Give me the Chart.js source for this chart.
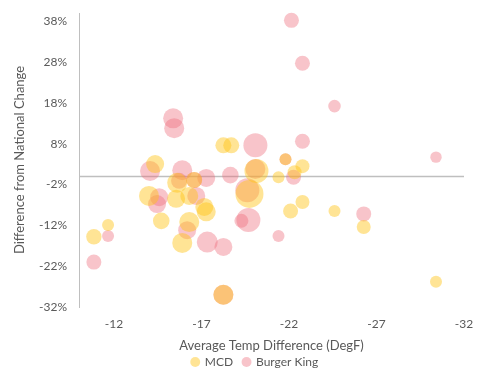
<!DOCTYPE html>
<html>
<head>
<meta charset="utf-8">
<script src="https://cdn.jsdelivr.net/npm/chart.js@4"></script>
<style>
  html, body { margin: 0; padding: 0; background: #fff; }
  #wrap { width: 485px; height: 375px; position: relative; }
</style>
</head>
<body>
<div id="wrap"><canvas id="c"></canvas></div>
<script>
// series values: temp diff (degF), diff from national change (%), bubble radius (px)
const mcdX = [-10.85, -11.66, -14.35, -14.0, -14.7, -15.55, -16.3, -15.9, -16.3, -17.27, -17.16, -18.25, -18.7, -20.14, -19.74, -18.25, -21.4, -21.8, -22.32, -22.77, -22.77, -22.09, -24.6, -26.27, -30.4, -16.58, -15.61];
const mcdY = [-14.8, -11.9, 3.0, -4.8, -10.9, -5.5, -4.8, -16.3, -11.2, -8.7, -7.5, 7.6, 7.6, 1.3, -4.3, -29.0, -0.2, 4.2, 1.0, 2.5, -6.3, -8.5, -8.5, -12.4, -25.8, -0.9, -1.6];
const mcdR = [7.7, 6, 9, 10, 8.3, 9, 9, 10, 10, 9.5, 9, 8, 8, 12, 14, 10, 6, 6, 7, 7, 7, 7.5, 6, 7, 6, 8, 10];

const bkX = [-22.14, -22.77, -24.6, -22.77, -30.4, -22.26, -15.38, -15.44, -20.08, -11.66, -10.85, -17.33, -18.25, -19.68, -19.28, -21.4, -26.27, -18.65, -14.06, -15.9, -17.27, -20.08, -19.62, -18.25, -21.8, -16.7, -16.18, -14.46, -14.58, -15.72, -16.58];
const bkY = [38.2, 27.7, 17.2, 8.6, 4.7, -0.2, 14.2, 11.8, 7.6, -14.6, -21.0, -16.1, -17.3, -10.7, -10.9, -14.6, -9.2, 0.3, 1.3, 1.5, -0.4, 1.8, -3.4, -29.0, 4.2, -4.8, -13.2, -6.8, -5.1, -1.1, -0.9];
const bkR = [7.5, 7.5, 6.3, 7.5, 5.7, 7.5, 10, 10, 12, 6, 7.5, 10.5, 9, 12, 7, 6, 7.5, 8.3, 10, 10, 9, 10, 12, 10, 6, 9, 9, 9, 9, 8, 8];

const xTicks = [-32, -27, -22, -17, -12];
const yTicks = [-32, -22, -12, -2, 8, 18, 28, 38];

const toPoints = (xs, ys, rs) => xs.map((x, i) => ({ x: x, y: ys[i], r: rs[i] }));

const gray = '#595959';
const axisGray = '#BFBFBF';
const font = 'Lato, "Open Sans", sans-serif';

// horizontal axis crosses at 0
const zeroLine = {
  id: 'zeroLine',
  beforeDatasetsDraw(chart) {
    const { ctx, chartArea, scales } = chart;
    const y = Math.round(scales.y.getPixelForValue(0)) + 0.5;
    ctx.save();
    ctx.strokeStyle = axisGray;
    ctx.lineWidth = 1.5;
    ctx.beginPath();
    ctx.moveTo(chartArea.left, y);
    ctx.lineTo(chartArea.right, y);
    ctx.stroke();
    ctx.restore();
  }
};

// nudge the legend under the plot area like excel does
const legendNudge = {
  id: 'legendNudge',
  afterLayout(chart) {
    const lg = chart.legend;
    lg.left += 23; lg.right += 23;
    lg.top += 3; lg.bottom += 3;
  }
};

new Chart(document.getElementById('c'), {
  type: 'bubble',
  data: {
    datasets: [
      {
        label: 'MCD',
        data: toPoints(mcdX, mcdY, mcdR),
        backgroundColor: 'rgba(255, 195, 20, 0.45)',
        borderWidth: 0,
        clip: false
      },
      {
        label: 'Burger King',
        data: toPoints(bkX, bkY, bkR),
        backgroundColor: 'rgba(238, 108, 123, 0.4)',
        borderWidth: 0,
        clip: false
      }
    ]
  },
  options: {
    responsive: true,
    maintainAspectRatio: false,
    animation: false,
    layout: { autoPadding: false, padding: { top: 13, right: 21, left: 0, bottom: 0 } },
    plugins: {
      legend: {
        position: 'bottom',
        labels: {
          usePointStyle: true,
          pointStyle: 'circle',
          boxWidth: 7,
          boxHeight: 7,
          padding: 10,
          color: gray,
          font: { family: font, size: 12 }
        }
      },
      tooltip: { enabled: false }
    },
    scales: {
      x: {
        type: 'linear',
        min: -32,
        max: -10,
        reverse: true,
        afterBuildTicks: (s) => { s.ticks = xTicks.map(v => ({ value: v })); },
        afterFit: (s) => { s.height = 36; },
        grid: { display: false, drawTicks: false },
        border: { display: false },
        ticks: { color: gray, font: { family: font, size: 12 }, padding: 10 },
        title: {
          display: true,
          text: 'Average Temp Difference (DegF)',
          color: gray,
          font: { family: font, size: 13 },
          padding: { top: 0, bottom: -11 }
        }
      },
      y: {
        type: 'linear',
        min: -32,
        max: 40,
        afterBuildTicks: (s) => { s.ticks = yTicks.map(v => ({ value: v })); },
        afterFit: (s) => { s.width = 79; },
        grid: { display: false, drawTicks: true, tickLength: 8, tickColor: 'rgba(0,0,0,0)' },
        border: { display: true, color: axisGray, width: 1 },
        ticks: {
          color: gray,
          font: { family: font, size: 12 },
          padding: 4,
          callback: (v) => v + '%'
        },
        title: {
          display: true,
          text: 'Difference from National Change',
          color: gray,
          font: { family: font, size: 13 },
          padding: { top: 12, bottom: 0 }
        }
      }
    }
  },
  plugins: [zeroLine, legendNudge]
});
</script>
</body>
</html>
